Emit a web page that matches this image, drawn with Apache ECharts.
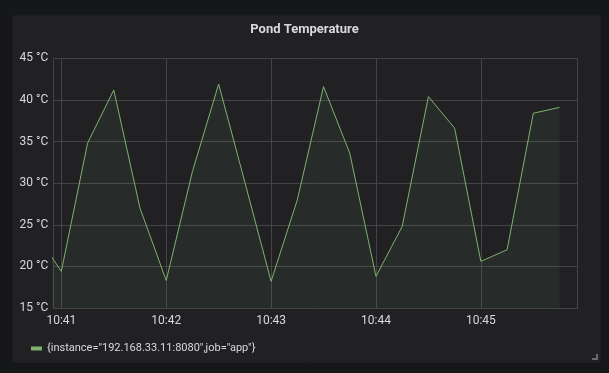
<!DOCTYPE html>
<html>
<head>
<meta charset="utf-8">
<script src="https://cdn.jsdelivr.net/npm/echarts@6/dist/echarts.min.js"></script>
<style>
html,body{margin:0;padding:0;background:#161719;}
#chart{width:609px;height:373px;}
</style>
</head>
<body>
<div id="chart"></div>
<script>
// Data
var times = ['10:40:45','10:41:00','10:41:15','10:41:30','10:41:45','10:42:00','10:42:15','10:42:30','10:42:45','10:43:00','10:43:15','10:43:30','10:43:45','10:44:00','10:44:15','10:44:30','10:44:45','10:45:00','10:45:15','10:45:30','10:45:45'];
var temps = [24.1,19.4,34.8,41.2,27.0,18.3,31.4,41.9,30.1,18.2,28.0,41.6,33.6,18.8,24.8,40.4,36.6,20.6,22.0,38.4,39.1];
var seriesName = '{instance="192.168.33.11:8080",job="app"}';
var titleText = 'Pond Temperature';
var axisStart = '10:40:55.4';
var axisEnd = '10:45:55.4';

function toTs(s){
  var p = s.split(':');
  return Date.UTC(2020,0,1,+p[0],+p[1],0) + Math.round(parseFloat(p[2])*1000);
}
var data = times.map(function(t,i){return [toTs(t), temps[i]];});

var chart = echarts.init(document.getElementById('chart'), null, {renderer:'canvas'});
var txt = '#d8d9da';
var gridCol = '#444447';
chart.setOption({
  useUTC: true,
  backgroundColor: '#161719',
  animation: false,
  graphic: [
    {type:'rect', z:-10, shape:{x:13,y:16,width:587,height:346}, style:{fill:'#212124', stroke:'#252528', lineWidth:1}},
    {type:'polyline', z:10, shape:{points:[[597,354],[597,359],[592,359]]}, style:{stroke:'#6b6b6e', lineWidth:2, fill:null}}
  ],
  title: {
    text: titleText, left: 'center', top: 18,
    textStyle: {color: txt, fontFamily: 'Roboto', fontSize: 13, fontWeight: 'bold'}
  },
  grid: {left: 53.3, right: 31.3, top: 58.3, bottom: 65, containLabel: false},
  xAxis: {
    type: 'time',
    min: toTs(axisStart), max: toTs(axisEnd),
    minInterval: 60000, maxInterval: 60000,
    axisLine: {show: true, lineStyle: {color: gridCol}},
    axisTick: {show: false},
    splitLine: {show: true, lineStyle: {color: gridCol, width: 1}},
    axisLabel: {
      color: txt, fontFamily: 'Roboto', fontSize: 12, margin: 7,
      formatter: function(v){var d=new Date(v);var h=d.getUTCHours(),m=d.getUTCMinutes();return h+':'+(m<10?'0':'')+m;},
      hideOverlap: false, showMinLabel: false, showMaxLabel: false
    }
  },
  yAxis: {
    type: 'value', min: 15, max: 45, interval: 5,
    axisLine: {show: false},
    axisTick: {show: false},
    splitLine: {show: true, lineStyle: {color: gridCol, width: 1}},
    axisLabel: {color: txt, fontFamily: 'Roboto', fontSize: 12, margin: 5,
      formatter: function(v){return v + ' °C';}}
  },
  legend: {
    left: 26, top: 338,
    icon: 'rect', itemWidth: 11, itemHeight: 4, itemGap: 10,
    textStyle: {color: txt, fontFamily: 'Roboto', fontSize: 11},
    data: [{name: seriesName, itemStyle: {color: '#7eb26d'}}]
  },
  series: [{
    name: seriesName, type: 'line', data: data,
    showSymbol: false, symbol: 'none', clip: true,
    lineStyle: {color: '#7eb26d', width: 1},
    itemStyle: {color: '#7eb26d'},
    areaStyle: {color: 'rgba(126,178,109,0.1)'}
  }]
});
</script>
</body>
</html>
